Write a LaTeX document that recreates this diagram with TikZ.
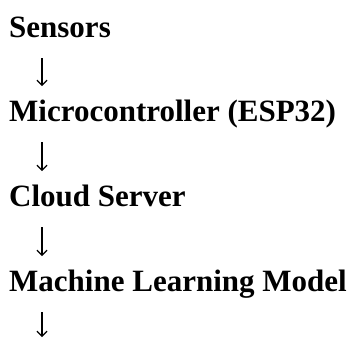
\documentclass[tikz,border=0pt]{standalone}
\usepackage{fontspec}
\setmainfont{Liberation Serif}
\usetikzlibrary{arrows.meta,positioning}
\tikzset{
  >=Stealth,
  stage/.style={anchor=base west,inner sep=0pt,font=\fontsize{31}{37}\selectfont\bfseries},
  flow/.style={-{Straight Barb[length=5pt,width=10pt]}, line width=1.2pt}
}
\begin{document}
\begin{tikzpicture}[x=1pt,y=-1pt]
    \useasboundingbox (0,0) rectangle (360,338);

    % Stages
    \node[stage] (sens) at (9,37) {Sensors};
    \node[stage] (mcu) at (9,121) {Microcontroller (ESP32)};
    \node[stage] (cloud) at (9,206) {Cloud Server};
    \node[stage] (ml) at (9,291) {Machine Learning Model};
    \coordinate (out) at (42,338);

    % Arrows
    \draw[flow] ([xshift=33pt,yshift=-21pt]sens.base west) -- ([xshift=33pt,yshift=35pt]mcu.base west);
    \draw[flow] ([xshift=33pt,yshift=-21pt]mcu.base west) -- ([xshift=33pt,yshift=35pt]cloud.base west);
    \draw[flow] ([xshift=33pt,yshift=-21pt]cloud.base west) -- ([xshift=33pt,yshift=35pt]ml.base west);
    \draw[flow] ([xshift=33pt,yshift=-21pt]ml.base west) -- ([yshift=1pt]out);

\end{tikzpicture}
\end{document}
